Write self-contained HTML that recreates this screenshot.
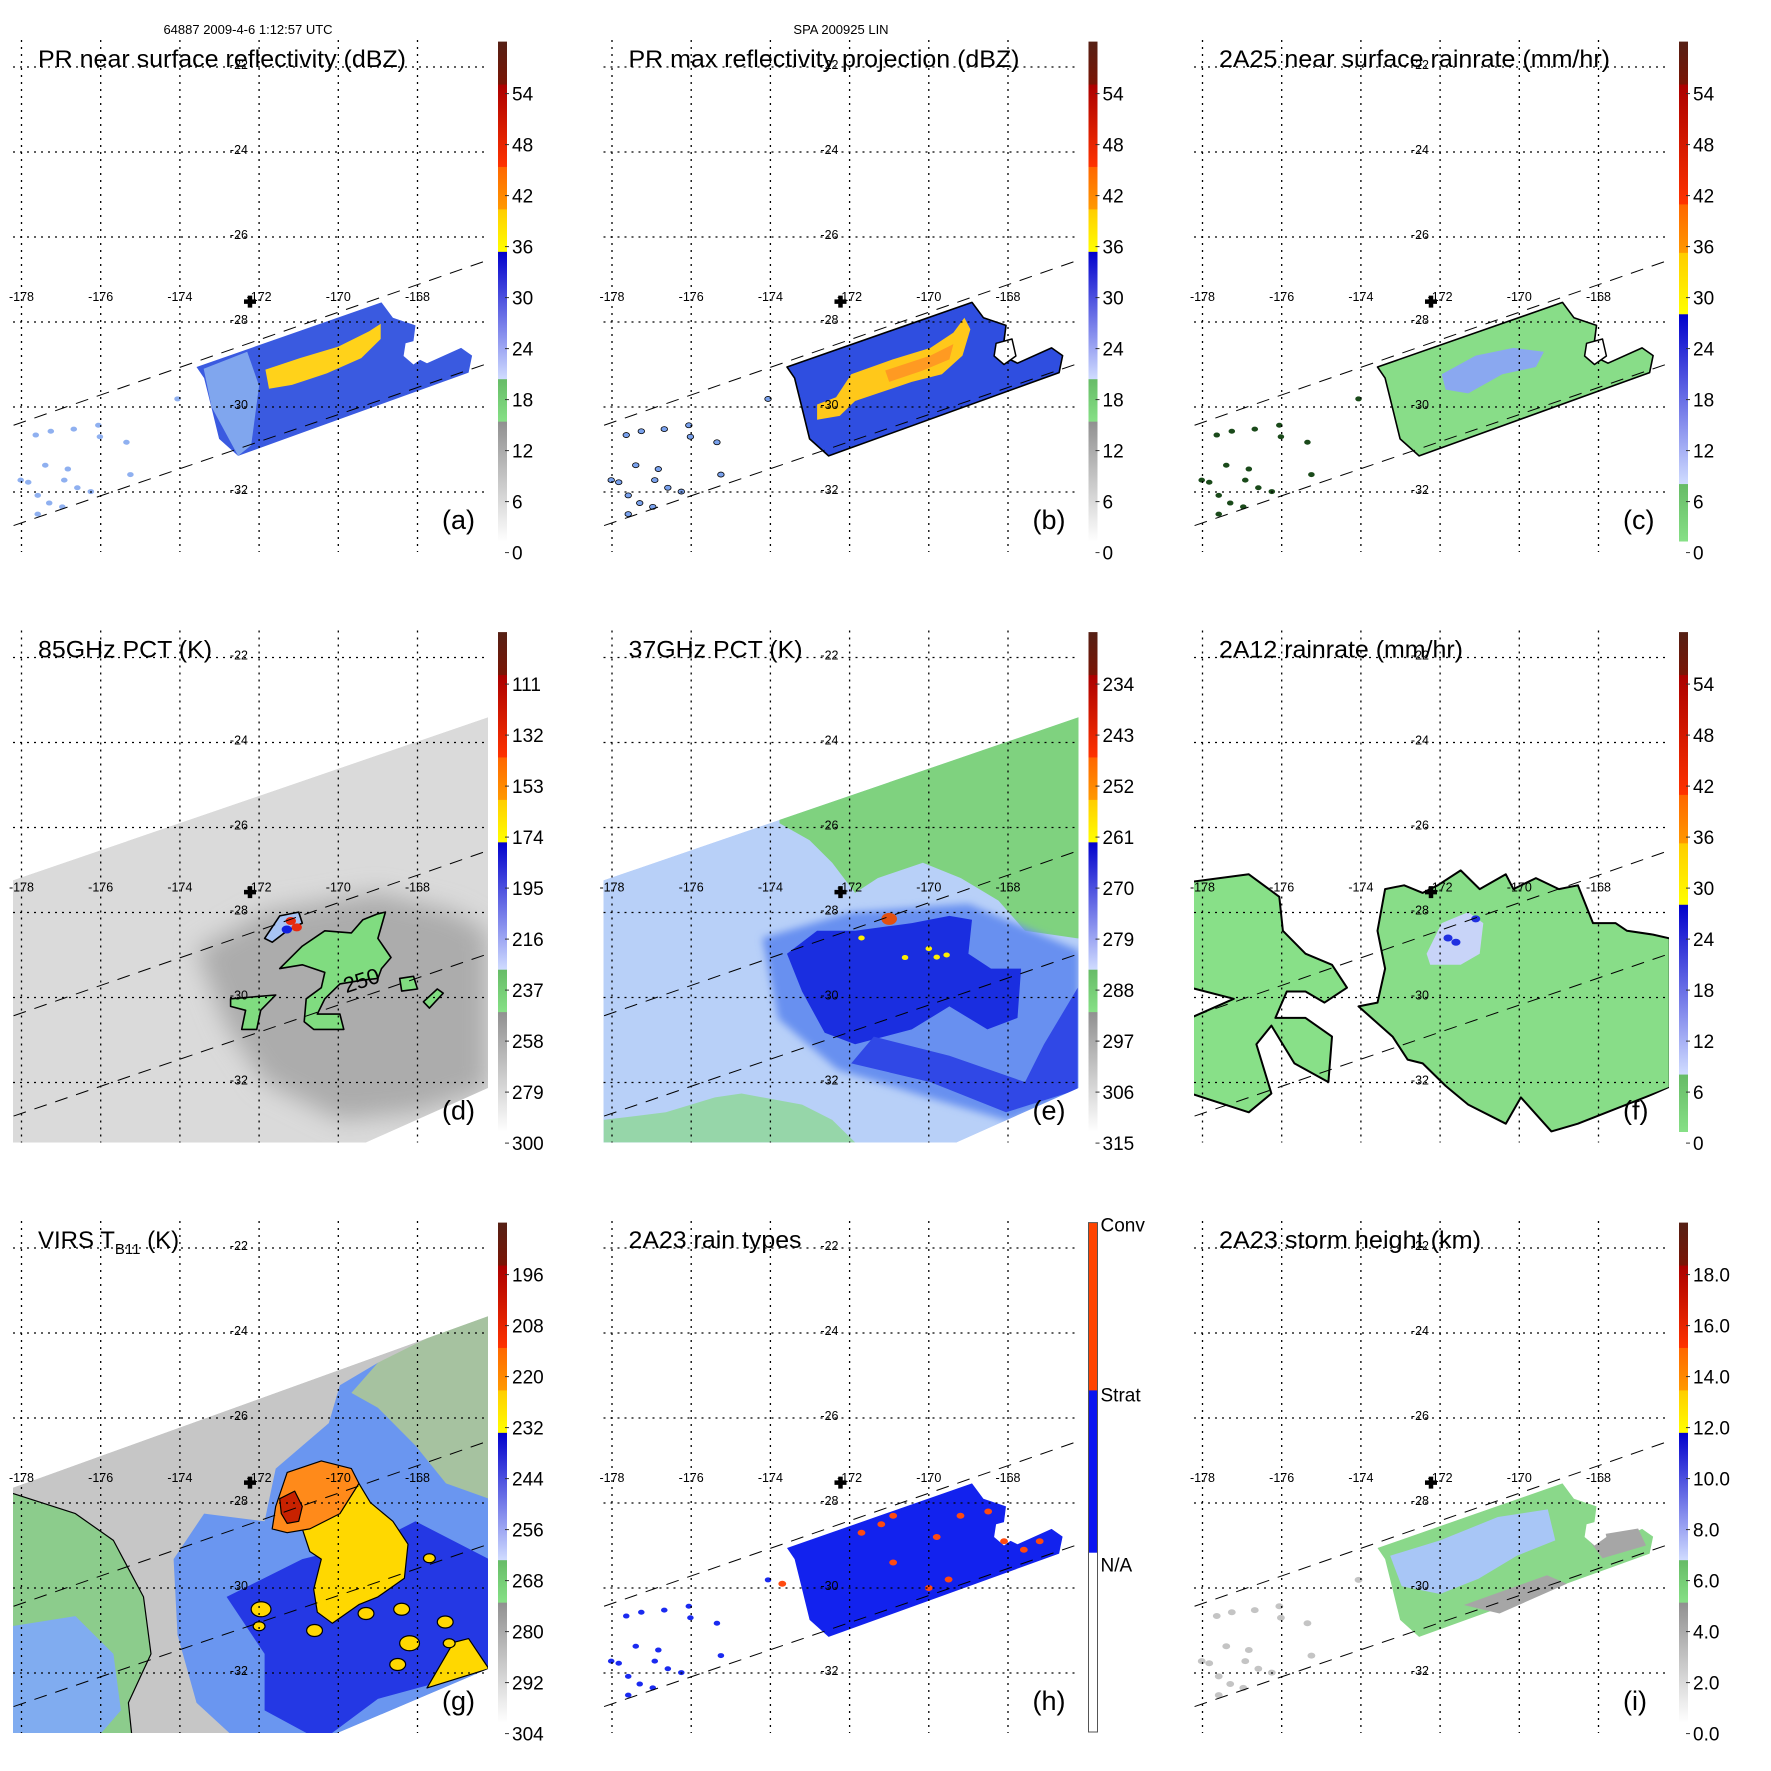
<!DOCTYPE html>
<html><head><meta charset="utf-8"><style>
html,body{margin:0;padding:0;background:#fff}
svg{display:block}
text{font-family:"Liberation Sans",sans-serif}
</style></head><body>
<svg id="fig" xmlns="http://www.w3.org/2000/svg" width="1771" height="1771" viewBox="0 0 1771 1771">
<defs>
<filter id="blur12" x="-20%" y="-20%" width="140%" height="140%"><feGaussianBlur stdDeviation="12"/></filter>
<filter id="blur4" x="-20%" y="-20%" width="140%" height="140%"><feGaussianBlur stdDeviation="4"/></filter>
</defs>
<text x="248" y="34" font-size="13" text-anchor="middle">64887 2009-4-6 1:12:57 UTC</text>
<text x="841" y="34" font-size="13" text-anchor="middle">SPA 200925 LIN</text>
</svg>
<script>
// ---- axis data ----
const LON_TICKS=[-178,-176,-174,-172,-170,-168];
const LAT_TICKS=[-22,-24,-26,-28,-30,-32];
const STORM_CENTER=[-172.23,-27.52];
// ---- colorbar tick labels ----
const CB_DBZ=["0","6","12","18","24","30","36","42","48","54"];
const CB_RAIN=["0","6","12","18","24","30","36","42","48","54"];
const CB_85=["300","279","258","237","216","195","174","153","132","111"];
const CB_37=["315","306","297","288","279","270","261","252","243","234"];
const CB_VIRS=["304","292","280","268","256","244","232","220","208","196"];
const CB_HT=["0.0","2.0","4.0","6.0","8.0","10.0","12.0","14.0","16.0","18.0"];
const CB_TYPES=["N/A","Strat","Conv"];
// ---- swaths (lon,lat) ----
const PR_UPPER=[[-178.2,-30.43],[-166.24,-26.55]];
const PR_LOWER=[[-178.2,-32.79],[-166.24,-28.98]];
const MW_SWATH=[[-178.4,-27.3],[-166.2,-23.4],[-166.2,-32.12],[-169.75,-33.6],[-178.4,-33.6]];
const VIRS_SWATH=[[-178.4,-27.7],[-166.2,-23.6],[-166.2,-31.9],[-170.5,-33.6],[-178.4,-33.6]];
// ---- PR precipitation regions ----
const PR_MAIN=[[-173.58,-29.06],[-168.91,-27.54],[-168.62,-27.9],[-168.05,-28.08],[-168.15,-28.79],[-167.76,-28.97],[-166.9,-28.61],[-166.62,-28.79],[-166.71,-29.19],[-172.53,-31.15],[-173.01,-30.75],[-173.2,-30.03],[-173.39,-29.32]];
const PR_HOLE=[[-168.3,-28.5],[-167.9,-28.4],[-167.8,-28.8],[-168.1,-29.0],[-168.35,-28.8]];
const PR_LIGHT_A=[[-173.4,-29.1],[-172.3,-28.7],[-172.0,-29.5],[-172.2,-30.9],[-172.53,-31.15],[-173.2,-30.0]];
const YELLOW_A=[[-171.84,-29.12],[-170.97,-28.85],[-170.0,-28.58],[-169.22,-28.22],[-168.93,-28.04],[-168.93,-28.4],[-169.42,-28.85],[-170.29,-29.21],[-171.17,-29.48],[-171.75,-29.57]];
const YELLOW_B=[[-171.96,-29.23],[-170.91,-28.88],[-169.96,-28.61],[-169.38,-28.25],[-169.1,-27.9],[-168.95,-28.17],[-169.15,-28.79],[-169.67,-29.23],[-170.43,-29.41],[-171.29,-29.68],[-171.86,-29.86],[-172.25,-30.21],[-172.82,-30.3],[-172.82,-29.94],[-172.34,-29.77]];
const ORANGE_B=[[-171.1,-29.14],[-169.96,-28.79],[-169.38,-28.52],[-169.48,-28.88],[-170.15,-29.14],[-171.0,-29.41]];
const BLUE_C=[[-171.96,-29.23],[-171.1,-28.79],[-170.15,-28.61],[-169.38,-28.7],[-169.58,-29.06],[-170.43,-29.23],[-171.29,-29.68],[-171.86,-29.59]];
const BLUE_I=[[-173.26,-29.24],[-172.0,-28.88],[-170.54,-28.33],[-169.28,-28.15],[-169.09,-28.88],[-170.06,-29.24],[-171.03,-29.78],[-172.0,-30.14],[-172.97,-29.96]];
const GRAY_I1=[[-172.4,-29.0],[-171.8,-28.9],[-171.7,-29.7],[-172.3,-29.8]];
const GRAY_I2=[[-171.4,-30.4],[-169.3,-29.7],[-168.8,-29.9],[-170.5,-30.6]];
const GRAY_I3=[[-168.3,-28.8],[-167.0,-28.6],[-166.8,-29.0],[-167.9,-29.3]];
const SPECKS=[[-177.64,-30.66],[-177.26,-30.57],[-176.68,-30.52],[-176.06,-30.43],[-176.02,-30.7],[-175.35,-30.83],[-177.4,-31.37],[-176.92,-31.72],[-176.83,-31.46],[-178.02,-31.72],[-177.59,-32.08],[-177.3,-32.26],[-176.97,-32.35],[-177.59,-32.52],[-176.25,-31.99],[-175.25,-31.59],[-176.59,-31.9],[-177.83,-31.77],[-174.06,-29.81]];
const CONV_SPOTS=[[-171.7,-28.7],[-171.2,-28.5],[-170.9,-28.3],[-169.8,-28.8],[-168.5,-28.2],[-168.1,-28.9],[-167.6,-29.1],[-170.9,-29.4],[-170.0,-30.0],[-169.5,-29.8],[-173.7,-29.9],[-167.2,-28.9],[-169.2,-28.3]];
// ---- 85 GHz ----
const D_DARK=[[-173.58,-28.88],[-171.86,-27.99],[-169.0,-27.54],[-167.09,-27.99],[-166.24,-28.43],[-166.24,-32.15],[-168.05,-32.7],[-169.96,-32.88],[-171.86,-31.99],[-172.82,-30.66]];
const D_GREEN1=[[-171.48,-29.32],[-170.91,-28.79],[-170.34,-28.43],[-169.67,-28.48],[-169.38,-28.17],[-169.0,-28.03],[-168.81,-27.99],[-169.0,-28.61],[-168.67,-29.06],[-168.91,-29.32],[-169.0,-29.55],[-169.38,-29.59],[-169.96,-29.68],[-170.34,-30.03],[-170.53,-30.39],[-169.96,-30.39],[-169.86,-30.75],[-170.62,-30.75],[-170.86,-30.57],[-170.81,-30.03],[-170.43,-29.77],[-170.34,-29.41],[-170.91,-29.23]];
const D_GREEN2=[[-172.72,-30.03],[-171.58,-29.94],[-171.96,-30.3],[-172.06,-30.75],[-172.44,-30.75],[-172.34,-30.3],[-172.72,-30.21]];
const D_GREEN3=[[-168.45,-29.55],[-168.1,-29.5],[-168.0,-29.8],[-168.4,-29.85]];
const D_GREEN4=[[-167.5,-29.8],[-167.35,-29.9],[-167.7,-30.25],[-167.85,-30.1]];
const D_CORE=[[-171.86,-28.61],[-171.48,-28.08],[-171.0,-27.99],[-170.91,-28.25],[-171.29,-28.43],[-171.67,-28.7]];
// ---- 37 GHz ----
const E_GREEN=[[-173.77,-24.87],[-165.18,-22.2],[-165.18,-28.61],[-166.24,-28.61],[-167.57,-28.43],[-168.24,-27.72],[-169.19,-27.19],[-170.15,-26.83],[-171.29,-27.19],[-171.86,-27.54],[-172.44,-26.83],[-173.01,-26.3],[-173.77,-25.9]];
const E_GREEN_LOW=[[-178.21,-33.41],[-178.21,-32.88],[-176.64,-32.7],[-175.4,-32.35],[-174.73,-32.26],[-173.2,-32.52],[-172.44,-32.88],[-171.86,-33.41]];
const E_MID=[[-174.2,-28.6],[-172.0,-28.0],[-169.0,-27.8],[-166.2,-28.9],[-166.2,-32.3],[-168.0,-32.9],[-170.2,-32.3],[-172.3,-31.7],[-173.8,-30.5]];
const E_DARK=[[-173.58,-28.97],[-172.82,-28.43],[-171.86,-28.43],[-170.43,-28.25],[-169.48,-28.08],[-168.91,-28.17],[-169.0,-28.97],[-168.43,-29.32],[-167.67,-29.32],[-167.76,-30.48],[-168.52,-30.75],[-169.48,-30.21],[-170.43,-30.75],[-171.86,-31.1],[-172.63,-30.83],[-173.2,-29.86]];
const E_BAND=[[-171.96,-31.55],[-169.96,-31.99],[-168.05,-32.7],[-166.24,-32.17],[-166.24,-29.77],[-167.09,-31.1],[-167.57,-31.99],[-169.48,-31.37],[-171.39,-30.92]];
const E_YELLOW=[[-170.0,-28.85],[-170.6,-29.06],[-169.8,-29.05],[-169.55,-29.0],[-171.7,-28.6]];
// ---- 2A12 ----
const F_LEFT=[[-178.3,-27.28],[-176.83,-27.1],[-176.06,-27.63],[-175.97,-28.43],[-175.4,-28.97],[-174.73,-29.23],[-174.35,-29.77],[-174.92,-30.12],[-175.4,-29.86],[-175.87,-29.86],[-176.16,-30.48],[-175.4,-30.48],[-174.73,-30.92],[-174.82,-31.99],[-175.68,-31.55],[-176.26,-30.66],[-176.64,-31.1],[-176.26,-32.26],[-176.83,-32.7],[-178.3,-32.26],[-178.3,-30.48],[-177.21,-30.03],[-178.3,-29.77]];
const F_MAIN=[[-173.39,-27.45],[-172.91,-27.36],[-172.44,-27.54],[-172.06,-27.36],[-171.48,-27.01],[-171.0,-27.45],[-170.34,-27.1],[-170.15,-27.45],[-169.58,-27.19],[-169.0,-27.45],[-168.52,-27.36],[-168.14,-28.25],[-167.57,-28.25],[-167.28,-28.43],[-166.62,-28.52],[-166.2,-28.61],[-166.2,-32.12],[-168.52,-32.97],[-169.19,-33.15],[-169.96,-32.35],[-170.34,-32.97],[-171.29,-32.52],[-171.86,-32.08],[-172.44,-31.55],[-172.82,-31.46],[-173.2,-30.92],[-174.06,-30.21],[-173.58,-30.12],[-173.39,-29.32],[-173.58,-28.43]];
const F_LIGHT=[[-172.34,-28.97],[-171.96,-28.25],[-171.29,-27.99],[-170.91,-28.25],[-171.0,-28.97],[-171.48,-29.23],[-172.25,-29.23]];
// ---- VIRS ----
const G_LEFT=[[-178.4,-27.72],[-176.64,-28.25],[-175.68,-28.88],[-174.92,-30.21],[-174.73,-31.55],[-175.3,-32.7],[-175.2,-33.6],[-178.4,-33.6]];
const G_LEFT_BLUE=[[-178.4,-30.92],[-176.64,-30.66],[-175.68,-31.55],[-175.49,-32.88],[-176.16,-33.6],[-178.4,-33.6]];
const G_CONV=[[-174.16,-29.32],[-173.39,-28.25],[-171.86,-28.43],[-171.58,-27.19],[-170.24,-26.12],[-169.96,-25.23],[-169.0,-24.7],[-168.05,-24.61],[-166.2,-23.98],[-166.2,-31.9],[-170.48,-33.6],[-172.53,-33.6],[-173.58,-32.7],[-174.06,-31.1]];
const G_DARK=[[-172.82,-30.21],[-170.91,-29.32],[-169.0,-28.88],[-168.05,-28.43],[-166.2,-29.32],[-166.2,-31.9],[-169.0,-32.61],[-170.43,-33.6],[-171.86,-32.88],[-171.86,-31.55]];
const G_NE=[[-169.0,-24.7],[-166.2,-23.4],[-166.2,-27.9],[-167.28,-27.54],[-168.05,-26.65],[-169.0,-25.76],[-169.67,-25.41]];
const G_ORANGE=[[-171.58,-28.08],[-171.29,-27.28],[-170.43,-27.01],[-169.67,-27.19],[-169.48,-27.54],[-169.96,-28.25],[-170.72,-28.61],[-171.29,-28.7],[-171.67,-28.61]];
const G_RED=[[-171.48,-27.9],[-171.1,-27.72],[-170.91,-28.08],[-171.0,-28.43],[-171.29,-28.48],[-171.44,-28.25]];
const G_YELLOW=[[-170.91,-28.61],[-169.96,-28.25],[-169.48,-27.54],[-169.19,-27.99],[-168.62,-28.43],[-168.24,-28.97],[-168.33,-29.77],[-169.0,-30.21],[-169.48,-30.39],[-170.15,-30.83],[-170.53,-30.57],[-170.62,-30.03],[-170.43,-29.32],[-170.72,-29.14]];
const G_YELLOW_SE=[[-167.76,-32.35],[-167.09,-31.28],[-166.71,-31.19],[-166.2,-31.9]];
const G_CELLS=[[-171.95,-30.5,0.25],[-172.0,-30.9,0.15],[-170.6,-31.0,0.2],[-168.4,-30.5,0.2],[-167.3,-30.8,0.2],[-167.2,-31.3,0.15],[-168.2,-31.3,0.25],[-169.3,-30.6,0.2],[-168.5,-31.8,0.2],[-167.7,-29.3,0.15]];

const X=lon=>21.5+(lon+178)*39.6;
const Y=lat=>67+(-22-lat)*42.5;
const NS="http://www.w3.org/2000/svg";
const svg=document.getElementById('fig');
function el(tag,attrs,parent){const e=document.createElementNS(NS,tag);for(const k in attrs)e.setAttribute(k,attrs[k]);parent.appendChild(e);return e;}
function pts(arr){return arr.map(p=>X(p[0]).toFixed(1)+','+Y(p[1]).toFixed(1)).join(' ');}
function poly(g,arr,fill,name,stroke,sw,op){const p=el('polygon',{points:pts(arr),fill:fill},g);


if(stroke){p.setAttribute('stroke',stroke);p.setAttribute('stroke-width',sw||1.5);p.setAttribute('stroke-linejoin','round');}
if(op!==undefined)p.setAttribute('opacity',op);return p;}
function specks(g,arr,fill,r,stroke){arr.forEach(p=>{const c=el('ellipse',{cx:X(p[0]),cy:Y(p[1]),rx:r*1.3,ry:r,fill:fill},g);


if(stroke){c.setAttribute('stroke',stroke);c.setAttribute('stroke-width',0.8);}});}

const BANDS_A=[[0,0.24,'#ffffff','#909090'],[0.24,0.325,'#86e086','#66bb66'],[0.325,0.58,'#d0dcff','#0000cc'],[0.58,0.665,'#ffff00','#ffcc00'],[0.665,0.75,'#ff9900','#ff6600'],[0.75,0.915,'#ff3300','#aa0000'],[0.915,1,'#7a1505','#552015']];
const BANDS_C=[[0,0.115,'#86e086','#66bb66'],[0.115,0.455,'#d0dcff','#0000cc'],[0.455,0.578,'#ffff00','#ffcc00'],[0.578,0.675,'#ff9900','#ff6600'],[0.675,0.915,'#ff3300','#aa0000'],[0.915,1,'#7a1505','#552015']];
const BANDS_H=[[0,0.34,'#ffffff','#ffffff'],[0.34,0.665,'#0a14f0','#0a14f0'],[0.665,1,'#ff4400','#ff4400']];
let gid=0;
function colorbar(g,bands,labels,isTypes){
  const top=41.6,bot=541,h=bot-top;
  const cb=el('g',{},g);
  
  
  bands.forEach(b=>{ if(b[1]<=b[0])return; const id='gr'+(gid++);
    const lg=el('linearGradient',{id:id,x1:0,y1:1,x2:0,y2:0},svg.querySelector('defs'));
    el('stop',{offset:0,'stop-color':b[2]},lg);el('stop',{offset:1,'stop-color':b[3]},lg);
    const r=el('rect',{x:498,y:bot-b[1]*h,width:9,height:(b[1]-b[0])*h+0.5,fill:'url(#'+id+')'},cb);
    
    });
  if(isTypes){el('rect',{x:498,y:top,width:9,height:h+10,fill:'none',stroke:'#555','stroke-width':1},cb);
    const ys=[383.7,213.6,43.5];
    labels.forEach((t,i)=>{const tx=el('text',{x:510,y:ys[i]+7,'font-size':19},cb);tx.textContent=t;
      
      });
    return;}
  labels.forEach((t,i)=>{const y=552.6-51*i;
    el('line',{x1:505,x2:509,y1:y,y2:y,stroke:'#333','stroke-width':1},cb);
    const tx=el('text',{x:512,y:y+7,'font-size':19},cb);tx.textContent=t;
    
    });
}
function grid(g){
  const gg=el('g',{stroke:'#000','stroke-width':1.3,'stroke-dasharray':'2 5',fill:'none'},g);
  
  
  LON_TICKS.forEach(l=>{const ln=el('line',{x1:X(l),x2:X(l),y1:40,y2:552},gg);
    
    });
  LAT_TICKS.forEach(l=>{const ln=el('line',{x1:13,x2:488,y1:Y(l),y2:Y(l)},gg);
    
    });
  LON_TICKS.forEach(l=>{const t=el('text',{x:X(l),y:301,'font-size':12.5,'text-anchor':'middle'},g);t.textContent=String(l);
    
    });
  LAT_TICKS.forEach(l=>{const t=el('text',{x:248,y:Y(l)+2,'font-size':12.5,'text-anchor':'end'},g);t.textContent=String(l);
    
    });
  const cx=X(STORM_CENTER[0]),cy=Y(STORM_CENTER[1]);
  const c=el('path',{d:`M${cx-6},${cy}H${cx+6}M${cx},${cy-6}V${cy+6}`,stroke:'#000','stroke-width':4.5},g);
  
  
}
function swathLines(g){[PR_UPPER,PR_LOWER].forEach(s=>{const l=el('line',{x1:X(s[0][0]),y1:Y(s[0][1]),x2:X(s[1][0]),y2:Y(s[1][1]),stroke:'#000','stroke-width':1,'stroke-dasharray':'13 9'},g);
  
  });}

const panels=[
 {id:'a',title:'PR near surface reflectivity (dBZ)',tw:368,bands:BANDS_A,labels:CB_DBZ},
 {id:'b',title:'PR max reflectivity projection (dBZ)',tw:391,bands:BANDS_A,labels:CB_DBZ},
 {id:'c',title:'2A25 near surface rainrate (mm/hr)',tw:391,bands:BANDS_C,labels:CB_RAIN},
 {id:'d',title:'85GHz PCT (K)',tw:174,bands:BANDS_A,labels:CB_85},
 {id:'e',title:'37GHz PCT (K)',tw:174,bands:BANDS_A,labels:CB_37},
 {id:'f',title:'2A12 rainrate (mm/hr)',tw:244,bands:BANDS_C,labels:CB_RAIN},
 {id:'g',title:'VIRS',tw:147,bands:BANDS_A,labels:CB_VIRS},
 {id:'h',title:'2A23 rain types',tw:173,bands:BANDS_H,labels:CB_TYPES},
 {id:'i',title:'2A23 storm height (km)',tw:262,bands:BANDS_A,labels:CB_HT}];

panels.forEach((p,k)=>{
  const col=k%3,row=Math.floor(k/3);
  const g=el('g',{transform:`translate(${(col*590.5).toFixed(1)},${(row*590.5).toFixed(1)})`},svg);
  
  
  const cid='clip'+p.id;
  const cp=el('clipPath',{id:cid},svg.querySelector('defs'));
  el('rect',{x:13,y:40,width:475,height:512},cp);
  const d=el('g',{'clip-path':`url(#${cid})`},g);
  
  
  if(p.id==='a'){poly(d,PR_MAIN,'#3a5ae0','rain-area');poly(d,PR_LIGHT_A,'#80a6ee','light-rain-area');poly(d,YELLOW_A,'#ffd21a','yellow-echo');poly(d,PR_HOLE,'#fff','rain-gap');specks(d,SPECKS,'#8fb0f0',2.5);}
  if(p.id==='b'){poly(d,PR_MAIN,'#2f4ee0','rain-area','#000',1.6);poly(d,YELLOW_B,'#ffc81a','yellow-echo');poly(d,ORANGE_B,'#ff9a22','orange-echo');poly(d,PR_HOLE,'#fff','rain-gap','#000',1.5);specks(d,SPECKS,'#7aa2ee',2.5,'#000');}
  if(p.id==='c'){poly(d,PR_MAIN,'#88dd88','rain-area','#000',1.6);poly(d,BLUE_C,'#8aa8f0','moderate-rain');poly(d,PR_HOLE,'#fff','rain-gap','#000',1.5);specks(d,SPECKS,'#1a4a1a',2.5);}
  if(p.id==='h'){poly(d,PR_MAIN,'#1222ee','stratiform-area');poly(d,PR_HOLE,'#fff','rain-gap');specks(d,SPECKS,'#1a2af0',2.5);specks(d,CONV_SPOTS,'#ff4a10',3);}
  if(p.id==='i'){poly(d,PR_MAIN,'#8ad88a','echo-area');poly(d,GRAY_I1,'#a6a6a6','low-top');poly(d,GRAY_I2,'#a6a6a6','low-top');poly(d,GRAY_I3,'#a6a6a6','low-top');poly(d,BLUE_I,'#a8c6f6','high-top');poly(d,PR_HOLE,'#fff','rain-gap');specks(d,SPECKS,'#c4c4c4',3);}
  if(p.id==='d'||p.id==='e'||p.id==='f'){
    const sid='sw'+p.id;const sc=el('clipPath',{id:sid},svg.querySelector('defs'));el('polygon',{points:pts(MW_SWATH)},sc);
    const s=el('g',{'clip-path':`url(#${sid})`},d);
    
    
    if(p.id==='d'){poly(s,MW_SWATH,'#dadada','swath');const dk=poly(s,D_DARK,'#acacac','cold-region');dk.setAttribute('filter','url(#blur12)');
      [D_GREEN1,D_GREEN2,D_GREEN3,D_GREEN4].forEach(a=>poly(s,a,'#80dc80','ice-scattering','#000',1.6));
      poly(s,D_CORE,'#a8c4f4','deep-core','#000',1.6);
      specks(s,[[-171.2,-28.2],[-171.05,-28.35]],'#e62a10',4);specks(s,[[-171.3,-28.4]],'#1020e0',4);
      const t=el('text',{x:X(-169.8),y:Y(-29.9),'font-size':22,transform:`rotate(-18 ${X(-169.8)} ${Y(-29.9)})`},s);t.textContent='250';
      }
    if(p.id==='e'){poly(s,MW_SWATH,'#b8d0f8','swath');poly(s,E_GREEN,'#7fd27f','warm-region');poly(s,E_GREEN_LOW,'#88d888','warm-region',null,0,0.7);
      const m=poly(s,E_MID,'#6890f0','mid-region');m.setAttribute('filter','url(#blur4)');
      poly(s,E_DARK,'#1a2ee0','cold-region');poly(s,E_BAND,'#3048e6','rainband');
      specks(s,[[-171.0,-28.15]],'#e25010',6);specks(s,E_YELLOW,'#ffee00',2.5);}
    if(p.id==='f'){poly(s,F_LEFT,'#88e088','rain-area','#000',2);poly(s,F_MAIN,'#88dd88','rain-area','#000',2);poly(s,F_LIGHT,'#c8d4f8','moderate-rain');
      specks(s,[[-171.6,-28.7],[-171.1,-28.15],[-171.8,-28.6]],'#2030e0',3.5);}
  }
  if(p.id==='g'){
    const sid='swg';const sc=el('clipPath',{id:sid},svg.querySelector('defs'));el('polygon',{points:pts(VIRS_SWATH)},sc);
    const s=el('g',{'clip-path':`url(#${sid})`},d);
    
    
    poly(s,VIRS_SWATH,'#c6c6c6','swath');poly(s,G_LEFT,'#8ccc8c','low-cloud','#000',1.2);poly(s,G_LEFT_BLUE,'#80acf0','mid-cloud');
    poly(s,G_CONV,'#6a96f0','cloud-shield');poly(s,G_NE,'#a6c2a0','low-cloud');poly(s,G_DARK,'#2438e4','cold-cloud');
    poly(s,G_YELLOW,'#ffd800','very-cold-cloud','#000',1.2);poly(s,G_YELLOW_SE,'#ffd800','very-cold-cloud','#000',1.2);
    G_CELLS.forEach(c=>{const e=el('ellipse',{cx:X(c[0]),cy:Y(c[1]),rx:c[2]*39.6,ry:c[2]*30,fill:'#ffd800',stroke:'#000','stroke-width':1.2},s);
      });
    poly(s,G_ORANGE,'#ff8a1a','overshooting-top','#000',1.2);poly(s,G_RED,'#c82200','coldest-core','#000',1.2);
  }
  swathLines(d);
  grid(g);
  const t=el('text',{x:38,y:67,'font-size':24,textLength:p.tw,lengthAdjust:'spacingAndGlyphs'},g);
  
  
  if(p.id==='g'){t.removeAttribute('textLength');t.innerHTML='VIRS T<tspan font-size="15" dy="6">B11</tspan><tspan dy="-6"> (K)</tspan>';}
  else t.textContent=p.title;
  const lb=el('text',{x:442,y:529,'font-size':27},g);lb.textContent='('+p.id+')';
  
  
  colorbar(g,p.bands,p.labels,p.id==='h');
});
</script>
</body></html>
